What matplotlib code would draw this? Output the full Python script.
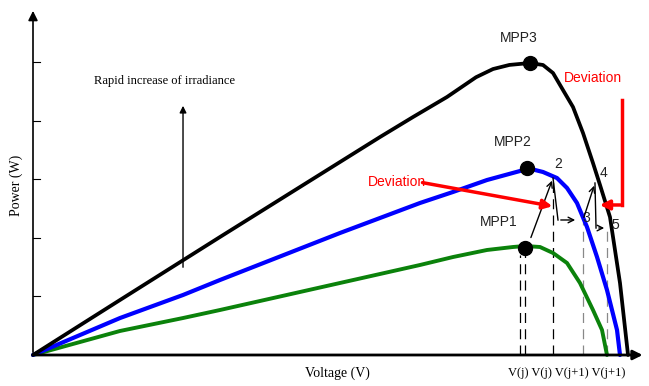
import numpy as np
import matplotlib
matplotlib.use("Agg")
import matplotlib.pyplot as plt

# P-V curves for three irradiance levels (voltage, power)
v_high = [0, 1.485, 3.191, 4.556, 5.922, 6.485, 7.065, 7.560, 7.850, 8.130, 8.481, 8.703, 8.874,
          9.044, 9.215, 9.386, 9.556, 9.676, 9.846, 10.017, 10.154]
p_high = [0, 0.939, 2.014, 2.867, 3.720, 4.061, 4.403, 4.740, 4.880, 4.950, 4.983, 4.949, 4.812,
          4.522, 4.232, 3.788, 3.276, 2.901, 2.355, 1.229, 0]

v_mid = [0, 1.485, 2.560, 3.191, 5.239, 6.604, 7.167, 7.747, 8.311, 8.430, 8.703, 8.942,
         9.113, 9.283, 9.454, 9.625, 9.795, 9.966, 10.017]
p_mid = [0, 0.631, 1.024, 1.280, 2.082, 2.594, 2.782, 2.986, 3.140, 3.191, 3.123, 3.020,
         2.850, 2.594, 2.184, 1.672, 1.109, 0.427, 0]

v_low = [0, 1.485, 2.560, 3.191, 5.239, 6.604, 7.167, 7.747, 8.191, 8.396, 8.652, 8.874,
         9.113, 9.334, 9.556, 9.710, 9.795]
p_low = [0, 0.410, 0.631, 0.768, 1.229, 1.536, 1.672, 1.792, 1.843, 1.860, 1.843, 1.741,
         1.570, 1.229, 0.768, 0.427, 0]

# maximum power points
mpp_v = [8.48, 8.43, 8.40]
mpp_p = [4.98, 3.19, 1.83]
mpp_names = ["MPP3", "MPP2", "MPP1"]
mpp_label_pos = [(8.29, 5.41), (8.19, 3.63), (7.94, 2.27)]

# operating points 2..5 and the dashed drop lines
step_names = ["2", "3", "4", "5"]
step_label_pos = [(8.96, 3.26), (9.45, 2.34), (9.74, 3.11), (9.93, 2.22)]
drop_v = [8.311, 8.396, 8.874, 9.386, 9.795]
drop_top = [1.70, 1.70, 2.99, 2.27, 2.13]
drop_col = ["black", "black", "black", "#888888", "#888888"]

y_ticks = [1, 2, 3, 4, 5]

s = 58.6
fig = plt.figure(figsize=(6.49, 3.86), dpi=100)
ax = fig.add_axes([0, 0, 1, 1])
ax.set_xlim(-33 / s, (649 - 33) / s)
ax.set_ylim((355 - 386) / s, 355 / s)
ax.axis("off")

serif = "Liberation Serif"
sans = "Liberation Sans"

# axes with arrows
ax.annotate("", xy=(10.45, 0), xytext=(0, 0),
            arrowprops=dict(arrowstyle="-|>", color="black", lw=2.0, mutation_scale=14))
ax.annotate("", xy=(0, 5.92), xytext=(0, 0),
            arrowprops=dict(arrowstyle="-|>", color="black", lw=1.2, mutation_scale=14))
for t in y_ticks:
    ax.plot([0, 0.12], [t, t], color="black", lw=0.8)

# dashed drop lines
for xv, top, c in zip(drop_v, drop_top, drop_col):
    ax.plot([xv, xv], [0, top], color=c, lw=0.9, dashes=(8, 5))

# curves
ax.plot(v_low, p_low, color="#0b820b", lw=2.8, solid_joinstyle="round", solid_capstyle="round")
ax.plot(v_mid, p_mid, color="#0000ff", lw=3.0, solid_joinstyle="round", solid_capstyle="round")
ax.plot(v_high, p_high, color="black", lw=2.7, solid_joinstyle="round", solid_capstyle="round")

ax.plot(mpp_v, mpp_p, "o", color="black", markersize=10, zorder=5)
for name, (x, y) in zip(mpp_names, mpp_label_pos):
    ax.text(x, y, name, ha="center", va="center", fontsize=10, family=sans, color="#222222")
for name, (x, y) in zip(step_names, step_label_pos):
    ax.text(x, y, name, ha="center", va="center", fontsize=10, family=sans, color="#222222")

# tracking steps
arw = dict(arrowstyle="->", color="black", lw=1.0, mutation_scale=10)
ax.annotate("", xy=(8.874, 3.02), xytext=(8.48, 1.96), arrowprops=arw)
ax.plot([8.874, 8.959], [3.02, 2.304], color="black", lw=1.0)
ax.annotate("", xy=(9.30, 2.304), xytext=(8.959, 2.304), arrowprops=arw)
ax.annotate("", xy=(9.59, 2.935), xytext=(9.386, 2.304), arrowprops=arw)
ax.plot([9.59, 9.608], [2.935, 2.167], color="black", lw=1.0)
ax.annotate("", xy=(9.795, 2.167), xytext=(9.608, 2.167), arrowprops=arw)

# deviation arrows
red = dict(arrowstyle="-|>", color="red", lw=2.5, mutation_scale=14)
ax.annotate("", xy=(8.91, 2.53), xytext=(6.60, 2.95), arrowprops=red)
ax.plot([10.05, 10.05], [4.35, 2.56], color="red", lw=2.5)
ax.annotate("", xy=(9.625, 2.56), xytext=(10.07, 2.56), arrowprops=red)
ax.text(6.21, 2.95, "Deviation", ha="center", va="center", fontsize=10, family=sans, color="red")
ax.text(9.56, 4.73, "Deviation", ha="center", va="center", fontsize=10, family=sans, color="red")

# irradiance arrow
ax.annotate("", xy=(2.56, 4.30), xytext=(2.56, 1.45),
            arrowprops=dict(arrowstyle="-|>", color="black", lw=1.0, mutation_scale=10))
ax.text(2.24, 4.68, "Rapid increase of irradiance", ha="center", va="center", fontsize=9, family=serif)

ax.text(5.19, -0.31, "Voltage (V)", ha="center", va="center", fontsize=10, family=serif)
ax.text(-0.29, 2.90, "Power (W)", ha="center", va="center", fontsize=10, family=serif, rotation=90)
ax.text(9.10, -0.31, "V(j) V(j) V(j+1) V(j+1)", ha="center", va="center", fontsize=9, family=serif)

fig.savefig("out.png", dpi=100)
